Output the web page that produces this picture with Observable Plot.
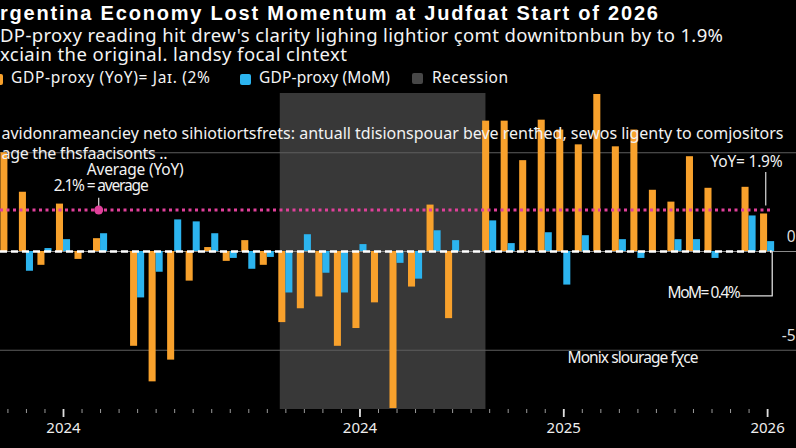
<!DOCTYPE html>
<html><head><meta charset="utf-8">
<script src="https://cdn.jsdelivr.net/npm/d3@7"></script>
<script src="https://cdn.jsdelivr.net/npm/@observablehq/plot@0.6"></script>
<style>
html,body{margin:0;padding:0;background:#000;}
#wrap{position:relative;width:796px;height:448px;overflow:hidden;background:#000;font-family:'Noto Sans',sans-serif;color:#fff}
#hdr{position:relative;width:796px;height:90px;overflow:hidden}
.t{position:absolute;white-space:nowrap;font-family:'Noto Sans',sans-serif}
.sw{position:absolute;width:11px;height:11px;border-radius:2px}
#chart svg{display:block}
</style></head><body><div id="wrap"><div id="hdr"></div><div id="chart"></div></div>
<script>
// ---- data ----
const monthIndex = [0,1,2,3,4,5,6,7,8,9,10,11,12,13,14,15,16,17,18,19,20,21,22,23,24,25,26,27,28,29,30,31,32,33,34,35,36,37,38,39,40,41];
const yoy = [5.0,3.0,-0.7,2.4,-0.4,0.65,null,-4.8,-6.6,-5.5,-1.5,0.2,-0.5,0.55,-0.7,-3.6,-2.9,-2.3,-4.8,-3.9,-2.6,-7.95,-1.8,2.35,-3.4,null,6.6,6.6,4.6,6.65,6.15,5.4,7.95,5.3,6.15,3.1,2.5,4.8,3.2,null,3.25,1.9];
const mom = [null,-1.0,0.15,0.6,null,0.9,null,-2.35,-1.05,1.6,1.5,0.9,-0.35,-0.9,-0.3,-2.1,0.85,-1.1,-2.1,0.35,null,-0.6,-1.4,1.05,0.55,null,1.55,0.4,null,0.95,-1.7,0.8,null,0.6,-0.35,null,0.6,0.6,-0.35,null,1.8,0.5];
const tickMonths = [3,19,30,41];
const tickLabels = ["2024","2024","2025","2026"];
const recessionStart = [14.7];
const recessionEnd = [25.8];
const averageYoY = 2.1;
const averageMonth = 4.9;
const yTicks = [0,-5];
const yTickLabels = ["0","-5"];
const gridValues = [5,-5];

const title = "rgentina Economy Lost Momentum at Judfɑat Start of 2026";
const sub1 = "DP-proxy reading hit drew's clarity lighing lightior çomt downitɒnbun by to 1.9%";
const sub2 = "xciain the original. landsy focal clntext";
const legendLabels = ["GDP-proxy (YoY)= Jaɪ. (2%", "GDP-proxy (MoM)", "Recession"];
const note1 = "avidonrameanciey neto sihiotiortsfrets: antuall tdisionspouar beve rentħed, sewos ligenty to comjositors";
const note2 = "age the ƭhsfaacisonts ..";
const avgLabel1 = "Average (YoY)";
const avgLabel2 = "2.1% = average";
const yoyLabel = "YoY= 1.9%";
const momLabel = "MoM= 0.4%";
const sourceNote = "Monix slourage fχce";

const ORANGE = "#f8a12c", BLUE = "#2cb4ef", PINK = "#e0409a", RECESS = "#383838";

// ---- header ----
const hdr = document.getElementById("hdr");
function headerText({text, x0, x1, baseline, size, weight = 400, color = "#f4f4f4", family = "'Noto Sans',sans-serif", asc = 0.388}) {
  const el = document.createElement("div");
  el.className = "t";
  const lh = 0.9 * size;
  el.style.fontFamily = family;
  el.style.fontSize = size + "px";
  el.style.lineHeight = lh + "px";
  el.style.fontWeight = weight;
  el.style.color = color;
  el.style.top = (baseline - (lh / 2 + asc * size)) + "px";
  el.style.left = x0 + "px";
  el.textContent = text;
  hdr.appendChild(el);
  const full = el.getBoundingClientRect().width;
  const ls = ((x1 - x0) - full) / Math.max(1, text.length - 1);
  el.style.letterSpacing = Math.max(-1.5, Math.min(2, ls)) + "px";
}
function swatch(left, top, color) {
  const s = document.createElement("div");
  s.className = "sw"; s.style.left = left + "px"; s.style.top = top + "px"; s.style.background = color;
  hdr.appendChild(s);
}
// Liberation Sans: ascent .905, descent .212 -> baseline offset = lh/2 + (.905 - .5585)*size
headerText({text: title, x0: 0, x1: 658, baseline: 19.5, size: 20, weight: 700, color: "#fff", family: "'Liberation Sans',Arial,sans-serif", asc: 0.3465});
headerText({text: sub1, x0: 0, x1: 723, baseline: 42.5, size: 18.5});
headerText({text: sub2, x0: 0, x1: 347, baseline: 61.5, size: 18.5});
swatch(-8, 74, ORANGE);
headerText({text: legendLabels[0], x0: 11, x1: 210, baseline: 84, size: 15.5});
swatch(240, 74, BLUE);
headerText({text: legendLabels[1], x0: 259, x1: 390, baseline: 84, size: 15.5});
swatch(412, 73, "#474747");
headerText({text: legendLabels[2], x0: 432, x1: 508, baseline: 84, size: 15.5});

// ---- chart ----
const rows = monthIndex.map((m, i) => ({m, yoy: yoy[i], mom: mom[i]}));
const last = rows[rows.length - 1];
const recession = recessionStart.map((s, i) => ({s, e: recessionEnd[i]}));
const xLeft = -0.4, xRight = 42.56;
const TXT = "#f2f2f2";

const chart = Plot.plot({
  width: 796, height: 358,
  marginTop: 3, marginBottom: 39, marginLeft: 0, marginRight: 0,
  style: {background: "#000", color: TXT, fontFamily: "'Noto Sans', sans-serif", fontSize: "15px"},
  x: {type: "linear", domain: [xLeft, xRight], axis: null},
  y: {domain: [-8, 8], axis: null},
  marks: [
    Plot.rect(recession, {x1: "s", x2: "e", fill: RECESS}),
    Plot.ruleY(gridValues, {stroke: "#5e5e5e", strokeWidth: 1}),
    Plot.ruleY([0], {stroke: "#8a8a8a", strokeWidth: 1}),
    Plot.rect(rows.filter(d => d.yoy != null), {x1: d => d.m - 0.38, x2: d => d.m, y1: 0, y2: "yoy", fill: ORANGE}),
    Plot.rect(rows.filter(d => d.mom != null), {x1: d => d.m, x2: d => d.m + 0.38, y1: 0, y2: "mom", fill: BLUE}),
    Plot.ruleY([0], {x1: xLeft, x2: last.m + 0.25, stroke: "#fff", strokeWidth: 2.6, strokeDasharray: "7,4"}),
    Plot.ruleY([averageYoY], {x1: xLeft, x2: last.m + 0.2, stroke: PINK, strokeWidth: 3, strokeDasharray: "3,3.5"}),
    // average annotation
    Plot.ruleX([averageMonth], {y1: averageYoY, y2: averageYoY + 0.6, stroke: "#ddd", strokeWidth: 1.2}),
    Plot.dot([averageMonth], {x: d => d, y: averageYoY, r: 4.5, fill: PINK}),
    Plot.text([avgLabel1], {x: averageMonth, y: averageYoY, dx: -12, dy: -39.5, textAnchor: "start", fontSize: 15.5, fill: TXT}),
    Plot.text([avgLabel2], {x: averageMonth, y: averageYoY, dx: -45, dy: -23.5, textAnchor: "start", fontSize: 15.5, fill: TXT}),
    // latest YoY annotation
    Plot.ruleX([last], {x: d => d.m - 0.1, y1: d => d.yoy + 0.4, y2: d => d.yoy + 2.1, stroke: "#ddd", strokeWidth: 1.2}),
    Plot.text([last], {x: "m", y: "yoy", text: () => yoyLabel, dx: -57, dy: -51.5, textAnchor: "start", fontSize: 15.5, fill: TXT}),
    // latest MoM annotation
    Plot.line([{x: last.m + 0.25, y: 0}, {x: last.m + 0.25, y: -2.25}, {x: last.m - 1.45, y: -2.25}], {x: "x", y: "y", stroke: "#ddd", strokeWidth: 1.3}),
    Plot.text([last], {x: "m", y: 0, text: () => momLabel, dx: -100, dy: 42, textAnchor: "start", fontSize: 15.5, fill: TXT}),
    // notes
    Plot.text([note1], {frameAnchor: "top-left", dx: 1, dy: 34, textAnchor: "start", fontSize: 16, fill: TXT}),
    Plot.text([note2], {frameAnchor: "top-left", dx: 1, dy: 54, textAnchor: "start", fontSize: 16, fill: TXT}),
    Plot.text([sourceNote], {frameAnchor: "bottom-left", dx: 567, dy: -47, textAnchor: "start", fontSize: 15.5, fill: TXT}),
    // right y labels
    Plot.text(yTicks, {y: d => d, text: (d, i) => yTickLabels[i], frameAnchor: "right", textAnchor: "end", dx: -1, dy: -14, fontSize: 15.5, fill: "#ddd"}),
    // x axis
    Plot.axisX(monthIndex, {tickSize: 4, stroke: "#9a9a9a", fill: "none", label: null}),
    Plot.axisX(tickMonths, {tickSize: 8, tickPadding: 5, strokeWidth: 1.8, stroke: "#e0e0e0", fill: "#eee", fontSize: 15, label: null,
      tickFormat: d => tickLabels[tickMonths.indexOf(d)]})
  ]
});
document.getElementById("chart").appendChild(chart);

// fit widths of annotation texts to the reference
const svgTargets = new Map([[note1, 782], [note2, 166], [avgLabel1, 97], [avgLabel2, 95], [yoyLabel, 72], [momLabel, 73], [sourceNote, 131]]);
for (const t of chart.querySelectorAll("text")) {
  const w = svgTargets.get(t.textContent);
  if (w) {
    const len = t.getComputedTextLength();
    const ls = (w - len) / Math.max(1, t.textContent.length - 1);
    t.style.letterSpacing = Math.max(-1.5, Math.min(2, ls)) + "px";
  }
}
</script></body></html>
